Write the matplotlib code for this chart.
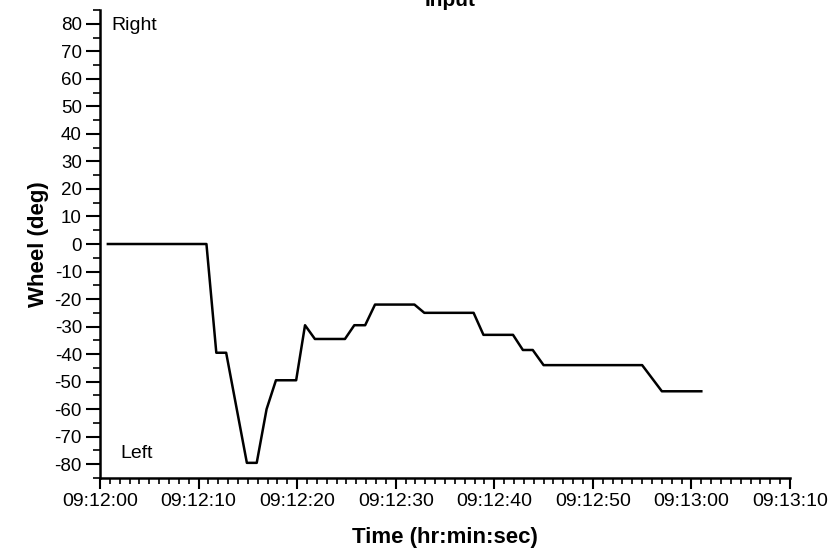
import pandas as pd
import matplotlib
matplotlib.use('Agg')
import matplotlib.pyplot as plt
import matplotlib.dates as mdates

plt.rcParams['font.family'] = ['Liberation Sans', 'DejaVu Sans']
plt.rcParams['axes.unicode_minus'] = False

# wheel angle trace (seconds after 09:12:00, degrees)
seconds = [0.8, 10.8, 11.8, 12.8, 14.9, 15.9, 16.9, 17.85, 19.9, 20.8, 21.8,
           24.85, 25.8, 26.9, 27.9, 31.9, 32.9, 37.9, 38.9, 41.9, 42.9, 43.9,
           45.0, 55.0, 57.0, 61.0]
wheel = [0, 0, -39.5, -39.5, -79.5, -79.5, -60, -49.5, -49.5, -29.5, -34.5,
         -34.5, -29.5, -29.5, -22, -22, -25, -25, -33, -33, -38.5, -38.5,
         -44, -44, -53.5, -53.5]

start = pd.Timestamp('2000-01-01 09:12:00')
times = start + pd.to_timedelta(seconds, unit='s')

fig = plt.figure(figsize=(8.36, 5.58), dpi=100)
ax = fig.add_axes([0.1196, 0.1434, 0.8254, 0.8386])

ax.plot(times, wheel, color='black', linewidth=1.8)

ax.set_xlim(start, start + pd.Timedelta(seconds=70))
ax.set_ylim(-85, 85)
ax.set_yticks(range(-80, 81, 10))
ax.set_yticks(range(-85, 86, 5), minor=True)

ax.xaxis.set_major_locator(mdates.SecondLocator(bysecond=range(0, 60, 10)))
ax.xaxis.set_minor_locator(mdates.SecondLocator())
ax.xaxis.set_major_formatter(mdates.DateFormatter('%H:%M:%S'))

for side in ['top', 'right']:
    ax.spines[side].set_visible(False)
for side in ['left', 'bottom']:
    ax.spines[side].set_linewidth(1.8)

ax.tick_params(axis='both', which='major', direction='out', width=1.5, pad=3)
ax.tick_params(axis='y', which='major', length=10, labelsize=13.5)
ax.tick_params(axis='y', which='minor', length=5, width=1.2)
ax.tick_params(axis='x', which='major', length=8, labelsize=14)
ax.tick_params(axis='x', which='minor', length=4, width=1.2)

ax.set_xlabel('Time (hr:min:sec)', fontsize=16, fontweight='bold', labelpad=12)
ax.set_ylabel('Wheel (deg)', fontsize=16, fontweight='bold', labelpad=4)

ax.text(0.017, 0.985, 'Right', transform=ax.transAxes, fontsize=14,
        va='top', ha='left')
ax.text(0.03, 0.035, 'Left', transform=ax.transAxes, fontsize=14,
        va='bottom', ha='left')

fig.text(0.538, 1 - 6 / 558, 'Input', fontsize=15, fontweight='bold',
         ha='center', va='baseline')

plt.savefig('out.png', dpi=100)
